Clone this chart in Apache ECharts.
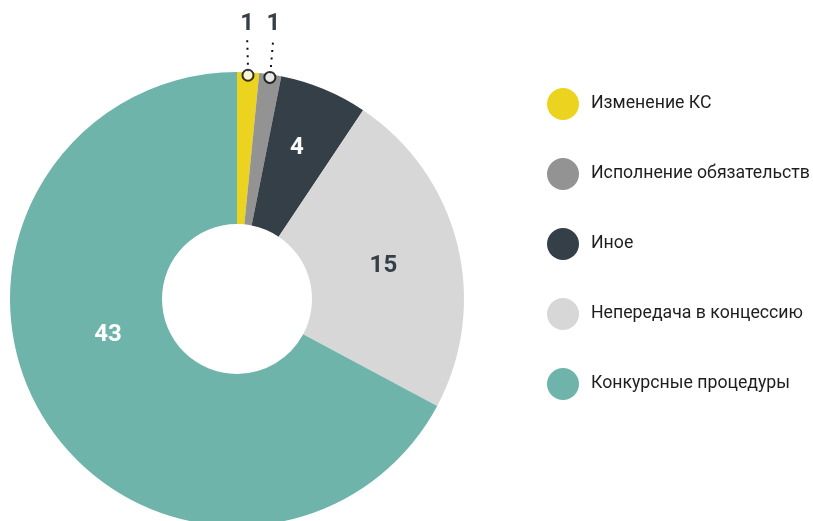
<!DOCTYPE html>
<html>
<head>
<meta charset="utf-8">
<script src="https://cdn.jsdelivr.net/npm/echarts@6/dist/echarts.min.js"></script>
<style>
  html, body { margin: 0; padding: 0; background: #fff; }
  #chart { width: 813px; height: 521px; }
</style>
</head>
<body>
<div id="chart"></div>
<script>
// категории и значения
var categories = ['Изменение КС', 'Исполнение обязательств', 'Иное', 'Непередача в концессию', 'Конкурсные процедуры'];
var values = [1, 1, 4, 15, 43];
var colors = ['#ECD31F', '#939393', '#353F48', '#D7D7D7', '#6EB4AA'];
var labelColors = ['#353F48', '#353F48', '#ffffff', '#353F48', '#ffffff'];

var FONT = 'Roboto';
var CENTER = [237, 299];
var R_IN = 75, R_OUT = 227;

var total = values.reduce(function (a, b) { return a + b; }, 0);

// маркеры у мелких секторов (середина сектора у внешнего радиуса)
var markers = [];
var acc = 0;
values.forEach(function (v, i) {
  if (i < 2) markers.push([R_OUT - 3, acc + v / 2]);
  acc += v;
});

// подписи: два мелких снаружи, остальные внутри
var labelOffsets = [[0, 0], [0, 0], [1, -9], [-3, 4], [3, -43]];
var pieData = categories.map(function (name, i) {
  var outside = i < 2;
  return {
    name: name,
    value: values[i],
    itemStyle: { color: colors[i] },
    label: {
      position: outside ? 'outside' : 'inside',
      color: labelColors[i],
      offset: outside ? [0, 0] : labelOffsets[i]
    },
    labelLine: { show: outside }
  };
});

var myChart = echarts.init(document.getElementById('chart'), null, { renderer: 'canvas' });

var option = {
  animation: false,
  backgroundColor: '#ffffff',
  legend: {
    orient: 'vertical',
    left: 547,
    top: 88,
    padding: 0,
    icon: 'circle',
    itemWidth: 32,
    itemHeight: 32,
    itemGap: 38,
    selectedMode: false,
    data: categories,
    textStyle: {
      fontFamily: FONT,
      fontSize: 17.7,
      color: '#1e1e1e',
      padding: [0, 0, 0, 7]
    }
  },
  polar: { center: CENTER, radius: R_OUT },
  angleAxis: {
    type: 'value', min: 0, max: total, startAngle: 90, clockwise: true,
    show: false, axisLine: { show: false }, axisTick: { show: false },
    axisLabel: { show: false }, splitLine: { show: false }
  },
  radiusAxis: {
    type: 'value', min: 0, max: R_OUT,
    show: false, axisLine: { show: false }, axisTick: { show: false },
    axisLabel: { show: false }, splitLine: { show: false }
  },
  series: [
    {
      type: 'pie',
      center: CENTER,
      radius: [R_IN, R_OUT],
      startAngle: 90,
      clockwise: true,
      avoidLabelOverlap: false,
      silent: true,
      label: {
        show: true,
        formatter: '{c}',
        fontFamily: FONT,
        fontWeight: 'bold',
        fontSize: 24
      },
      labelLine: {
        length: 20,
        length2: 0,
        lineStyle: { color: '#111111', width: 2, type: [2, 5.5] }
      },
      labelLayout: function (p) {
        if (p.dataIndex > 1 || !p.labelLinePoints) return {};
        var s = p.labelLinePoints[0];
        var lx = s[0] + (p.dataIndex === 0 ? -1 : 3);
        return {
          x: lx,
          y: 24,
          align: 'center',
          verticalAlign: 'middle',
          labelLinePoints: [[s[0], s[1]], [lx, 38]]
        };
      },
      data: pieData
    },
    {
      type: 'scatter',
      coordinateSystem: 'polar',
      symbol: 'circle',
      symbolSize: 11,
      silent: true,
      z: 10,
      itemStyle: { color: '#ffffff', borderColor: '#000000', borderWidth: 2 },
      data: markers
    }
  ]
};

myChart.setOption(option);
</script>
</body>
</html>
